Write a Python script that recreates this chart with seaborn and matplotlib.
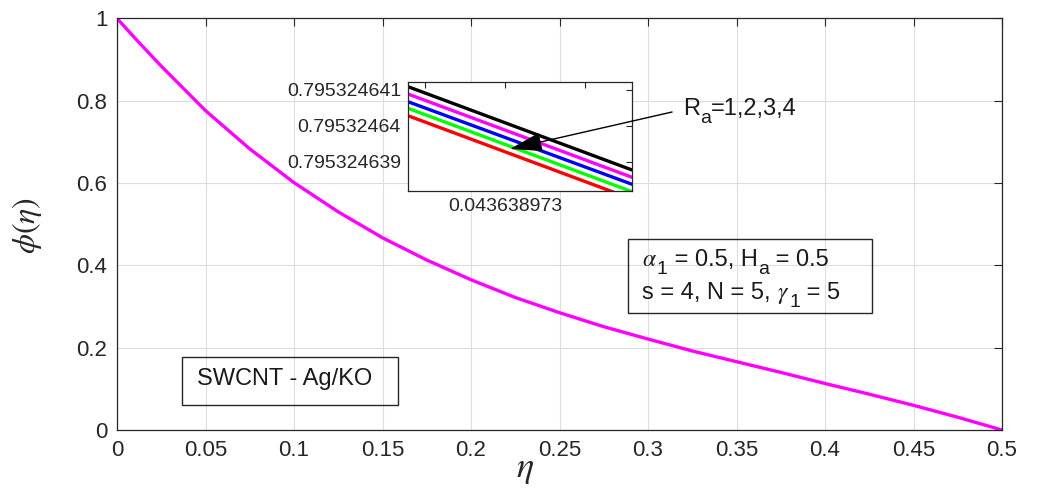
import matplotlib.pyplot as plt
import matplotlib.ticker as mticker
from matplotlib.patches import Rectangle
import numpy as np
import pandas as pd
import seaborn as sns

# main curve (the R_a curves overlap at this scale)
eta = [0, 0.0125, 0.025, 0.05, 0.075, 0.1, 0.125, 0.15, 0.175, 0.2, 0.225, 0.25,
       0.275, 0.3, 0.325, 0.35, 0.375, 0.4, 0.425, 0.45, 0.475, 0.5]
phi = [1.0, 0.941, 0.884, 0.776, 0.683, 0.601, 0.530, 0.467, 0.413, 0.365, 0.322,
       0.285, 0.251, 0.221, 0.192, 0.166, 0.140, 0.113, 0.087, 0.060, 0.031, 0.0]

# zoomed inset around eta = 0.043638973
inset_eta = [0.0436389723937, 0.0436389737938]
phi_black = [0.795324641092, 0.795324638778]
phi_magenta = [0.795324640889, 0.795324638575]
phi_blue = [0.795324640675, 0.795324638381]
phi_green = [0.795324640492, 0.795324638175]
phi_red = [0.795324640286, 0.795324637972]
inset_colors = ['black', '#ff00ff', 'blue', '#00ff00', 'red']
inset_yticks = [0.795324639, 0.79532464, 0.795324641]
inset_xticks = [0.0436389725, 0.043638973, 0.0436389735]

sns.set_theme(style='white')
plt.rcParams['font.family'] = ['Liberation Sans', 'DejaVu Sans']
plt.rcParams['mathtext.fontset'] = 'stix'

W, H = 1038, 496
TXT = '#1a1a1a'


def fbox(l, t, r, b):
    return [l / W, 1 - b / H, (r - l) / W, (b - t) / H]


fig = plt.figure(figsize=(W / 100, H / 100), dpi=100)
renderer = fig.canvas.get_renderer()


def rich(x, y, parts, size):
    # text with Matlab-like (large) subscripts, x/y in pixels, y = baseline
    for s, sub in parts:
        fs = size * 0.82 if sub else size
        dy = size * 0.33 * 100 / 72 if sub else 0
        t = fig.text(x / W, 1 - (y + dy) / H, s, fontsize=fs, ha='left',
                     va='baseline', color=TXT)
        x += t.get_window_extent(renderer).width


ax = fig.add_axes(fbox(117, 18.4, 1002, 430))
sns.lineplot(x=eta, y=phi, color='#ff00ff', lw=2.4, ax=ax)
ax.set_xlim(0, 0.5)
ax.set_ylim(0, 1)
ax.set_xticks(np.arange(0, 0.501, 0.05))
ax.set_yticks(np.arange(0, 1.001, 0.2))
ax.xaxis.set_major_formatter(mticker.FuncFormatter(lambda v, p: f'{v:g}'))
ax.yaxis.set_major_formatter(mticker.FuncFormatter(lambda v, p: f'{v:g}'))
ax.tick_params(direction='in', top=True, right=True, length=6, width=0.8,
               color='#262626', labelcolor='#262626', labelsize=16, pad=7)
ax.grid(True, color='#dddddd', lw=0.8)
for s in ax.spines.values():
    s.set_color('#262626')
    s.set_linewidth(0.9)
ax.set_xlabel('')
ax.set_ylabel('')
fig.text(525 / W, 1 - 468 / H, r'$\eta$', fontsize=26, ha='center', va='center')
fig.text(27 / W, 1 - 225 / H, r'$\phi(\eta)$', fontsize=23, rotation=90,
         ha='center', va='center')

# inset
axin = fig.add_axes(fbox(408, 82, 632, 191))
zoom = pd.DataFrame({
    'eta': inset_eta * 5,
    'phi': phi_black + phi_magenta + phi_blue + phi_green + phi_red,
    'Ra': sum([[k] * 2 for k in range(5)], []),
})
sns.lineplot(data=zoom, x='eta', y='phi', hue='Ra', palette=inset_colors,
             lw=2.4, legend=False, ax=axin)
axin.set_xlim(inset_eta[0], inset_eta[1])
axin.set_ylim(0.795324638194, 0.795324641222)
axin.set_yticks(inset_yticks)
axin.yaxis.set_major_formatter(mticker.FuncFormatter(lambda v, p: f'{v:.9g}'))
axin.set_xticks(inset_xticks, labels=['', f'{inset_xticks[1]:.8g}', ''])
axin.tick_params(direction='in', top=True, right=True, length=4, width=0.8,
                 color='#262626', labelcolor='#262626', labelsize=14, pad=5)
axin.set_xlabel('')
axin.set_ylabel('')
for s in axin.spines.values():
    s.set_color('#262626')
    s.set_linewidth(0.9)

# arrow and label
axin.annotate('', xy=(0.2220, 0.6827), xycoords=ax.transData,
              xytext=(0.3136, 0.7726), textcoords=ax.transData,
              annotation_clip=False,
              arrowprops=dict(arrowstyle='-|>,head_length=1.7,head_width=0.5',
                              color='black', lw=1, shrinkA=0, shrinkB=0))
rich(683, 115, [('R', False), ('a', True), ('=1,2,3,4', False)], 17)

# parameter box
fig.add_artist(Rectangle((628 / W, 1 - 313 / H), 244 / W, 74 / H,
                         transform=fig.transFigure, fill=False,
                         ec='#262626', lw=1))
rich(642, 266, [(r'$\alpha$', False), ('1', True), (' = 0.5, H', False),
                ('a', True), (' = 0.5', False)], 17)
rich(642, 299, [('s = 4, N = 5, ', False), (r'$\gamma$', False), ('1', True),
                (' = 5', False)], 17)

# nanofluid box
fig.add_artist(Rectangle((182 / W, 1 - 405 / H), 216 / W, 48 / H,
                         transform=fig.transFigure, fill=False,
                         ec='#262626', lw=1))
rich(197, 385, [('SWCNT - Ag/KO', False)], 17)

plt.savefig('out.png', dpi=100)
